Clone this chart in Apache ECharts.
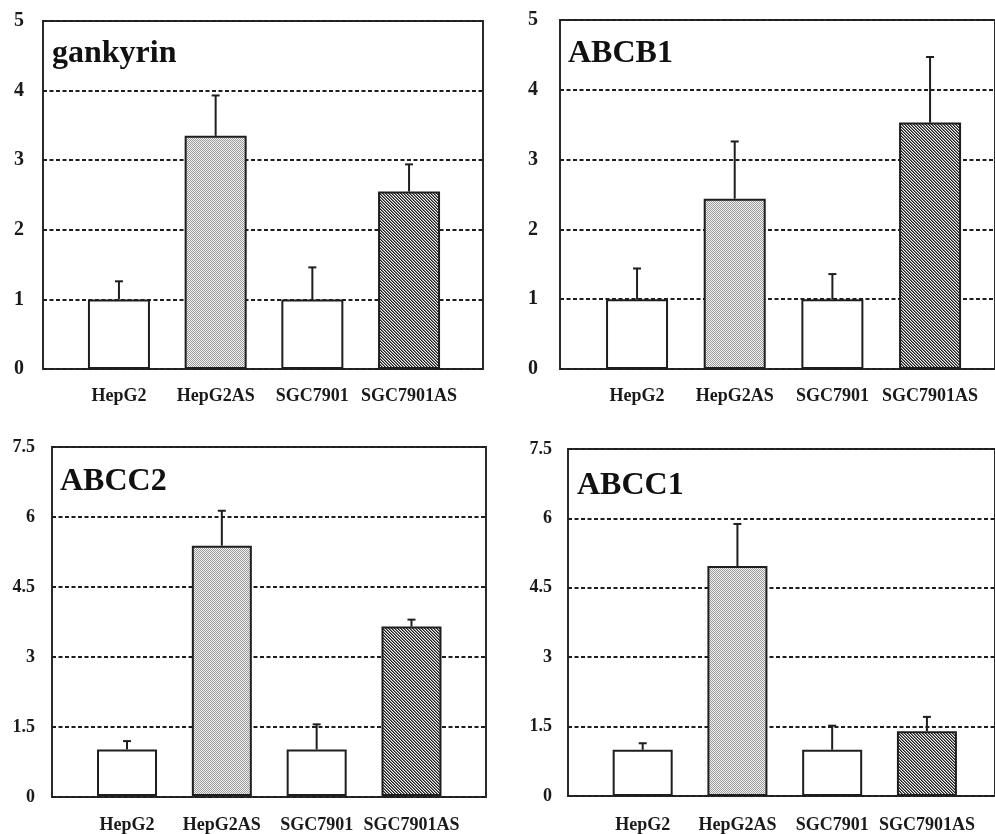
<!DOCTYPE html>
<html>
<head>
<meta charset="utf-8">
<script src="https://cdn.jsdelivr.net/npm/echarts@6.0.0/dist/echarts.min.js"></script>
<style>
html,body{margin:0;padding:0;background:#fff;}
#chart{width:995px;height:834px;}
</style>
</head>
<body>
<div id="chart"></div>
<script>
// ---------- DATA ----------
const categories = ['HepG2', 'HepG2AS', 'SGC7901', 'SGC7901AS'];

const gankyrinMean = [1.0, 3.35, 1.0, 2.55];
const gankyrinSD   = [0.26, 0.58, 0.46, 0.39];

const abcb1Mean = [1.0, 2.44, 1.0, 3.53];
const abcb1SD   = [0.44, 0.82, 0.36, 0.94];

const abcc2Mean = [1.0, 5.38, 1.0, 3.64];
const abcc2SD   = [0.18, 0.75, 0.54, 0.15];

const abcc1Mean = [1.0, 4.97, 1.0, 1.40];
const abcc1SD   = [0.14, 0.91, 0.52, 0.31];

const yTicksTop    = [0, 1, 2, 3, 4, 5];
const yTicksBottom = [0, 1.5, 3, 4.5, 6, 7.5];

// ---------- FILL PATTERNS ----------
function makeDots() {
  const c = document.createElement('canvas');
  c.width = 2; c.height = 2;
  const g = c.getContext('2d');
  g.fillStyle = '#f2f2f2'; g.fillRect(0, 0, 2, 2);
  g.fillStyle = '#9a9a9a'; g.fillRect(0, 0, 1, 1); g.fillRect(1, 1, 1, 1);
  return c;
}
function makeHatch() {
  const c = document.createElement('canvas');
  c.width = 3; c.height = 3;
  const g = c.getContext('2d');
  g.fillStyle = '#f4f4f4'; g.fillRect(0, 0, 3, 3);
  for (let i = 0; i < 3; i++) {
    g.fillStyle = '#1e1e1e'; g.fillRect(i, i, 1, 1);
    g.fillStyle = '#7a7a7a'; g.fillRect((i + 1) % 3, i, 1, 1);
  }
  return c;
}
const dotFill = { image: makeDots(), repeat: 'repeat' };
const hatchFill = { image: makeHatch(), repeat: 'repeat' };
const barFills = ['#ffffff', dotFill, '#ffffff', hatchFill];

// ---------- LAYOUT ----------
const panels = [
  { title: 'gankyrin', mean: gankyrinMean, sd: gankyrinSD, ticks: yTicksTop,
    frame: { left: 43, top: 21, width: 440, height: 348 }, dataLeft: 70.6, dataWidth: 386.8,
    barWidth: 62, yMargin: 19, yFont: 20, xMargin: 18, titlePos: [52, 54] },
  { title: 'ABCB1', mean: abcb1Mean, sd: abcb1SD, ticks: yTicksTop,
    frame: { left: 560, top: 20, width: 445, height: 349 }, dataLeft: 588.2, dataWidth: 390.7,
    barWidth: 62, yMargin: 22, yFont: 20, xMargin: 18, titlePos: [568, 54] },
  { title: 'ABCC2', mean: abcc2Mean, sd: abcc2SD, ticks: yTicksBottom,
    frame: { left: 52, top: 447, width: 434, height: 350 }, dataLeft: 79.6, dataWidth: 379.3,
    barWidth: 60, yMargin: 17, yFont: 18, xMargin: 20, titlePos: [60, 482] },
  { title: 'ABCC1', mean: abcc1Mean, sd: abcc1SD, ticks: yTicksBottom,
    frame: { left: 568, top: 449, width: 437, height: 347 }, dataLeft: 595.3, dataWidth: 379,
    barWidth: 60, yMargin: 16, yFont: 18, xMargin: 20, titlePos: [577, 486] }
];

const serif = '"Liberation Serif", "Times New Roman", serif';
const option = { animation: false, backgroundColor: '#ffffff',
  grid: [], xAxis: [], yAxis: [], series: [], graphic: [] };

panels.forEach((p, k) => {
  const tmin = p.ticks[0], tmax = p.ticks[p.ticks.length - 1];
  const step = p.ticks[1] - p.ticks[0];
  const fi = 2 * k, di = 2 * k + 1;
  option.grid.push({ left: p.frame.left, top: p.frame.top, width: p.frame.width, height: p.frame.height,
    show: true, borderColor: '#2a2a2a', borderWidth: 2, backgroundColor: 'transparent', containLabel: false });
  option.grid.push({ left: p.dataLeft, top: p.frame.top, width: p.dataWidth, height: p.frame.height,
    containLabel: false });

  option.xAxis.push({ gridIndex: fi, type: 'value', min: 0, max: 1, show: false });
  option.yAxis.push({ gridIndex: fi, type: 'value', min: tmin, max: tmax, interval: step,
    axisLine: { show: false }, axisTick: { show: false },
    axisLabel: { margin: p.yMargin, fontFamily: serif, fontWeight: 'bold', fontSize: p.yFont, color: '#1a1a1a' },
    splitLine: { show: true, lineStyle: { color: '#1e1e1e', width: 2, type: [4, 2.5] } } });

  option.xAxis.push({ gridIndex: di, type: 'category', data: categories, boundaryGap: true,
    axisLine: { show: false }, axisTick: { show: false },
    axisLabel: { margin: p.xMargin, fontFamily: serif, fontWeight: 'bold', fontSize: 18, color: '#1a1a1a', interval: 0 } });
  option.yAxis.push({ gridIndex: di, type: 'value', min: tmin, max: tmax, show: false, splitLine: { show: false } });

  option.series.push({ type: 'bar', xAxisIndex: di, yAxisIndex: di, barWidth: p.barWidth, z: 3,
    data: p.mean.map((v, i) => ({ value: v, itemStyle: { color: barFills[i] } })),
    itemStyle: { borderColor: '#1e1e1e', borderWidth: 2 } });

  option.series.push({ type: 'custom', xAxisIndex: di, yAxisIndex: di, z: 4,
    data: p.mean.map((v, i) => [i, v, p.sd[i]]),
    renderItem: function (params, api) {
      const i = api.value(0), m = api.value(1), s = api.value(2);
      const a = api.coord([i, m]);
      const b = api.coord([i, m + s]);
      const st = { stroke: '#1e1e1e', lineWidth: 2 };
      return { type: 'group', children: [
        { type: 'line', shape: { x1: a[0], y1: a[1], x2: b[0], y2: b[1] }, style: st },
        { type: 'line', shape: { x1: b[0] - 4, y1: b[1], x2: b[0] + 4, y2: b[1] }, style: st }
      ] };
    } });

  option.graphic.push({ type: 'text', x: p.titlePos[0], y: p.titlePos[1], z: 10,
    style: { text: p.title, font: 'bold 32px ' + serif, fill: '#111', textAlign: 'left', textVerticalAlign: 'middle', verticalAlign: 'middle' } });
});

const chart = echarts.init(document.getElementById('chart'), null, { renderer: 'canvas' });
chart.setOption(option);
</script>
</body>
</html>
